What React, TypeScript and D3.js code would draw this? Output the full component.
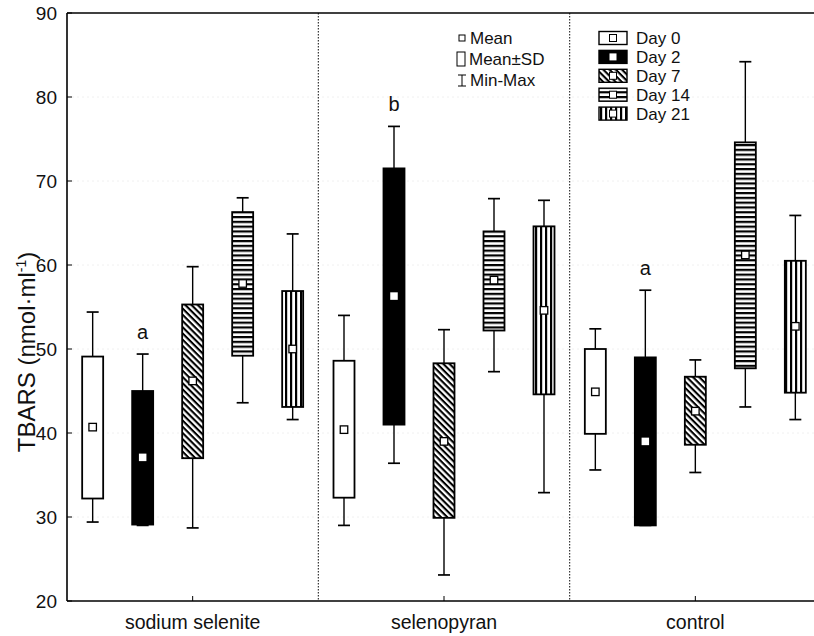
import React from 'react';
import * as d3 from 'd3';

const groups = ['sodium selenite', 'selenopyran', 'control'];
const days = ['Day 0', 'Day 2', 'Day 7', 'Day 14', 'Day 21'];

// per group, per day: [min, mean-SD, mean, mean+SD, max]
const sodiumSelenite = [
  [29.4, 32.2, 40.7, 49.1, 54.4],
  [29.0, 29.1, 37.1, 45.0, 49.4],
  [28.7, 37.0, 46.2, 55.3, 59.8],
  [43.6, 49.2, 57.8, 66.3, 68.0],
  [41.6, 43.1, 50.0, 56.9, 63.7],
];
const selenopyran = [
  [29.0, 32.3, 40.4, 48.6, 54.0],
  [36.4, 41.0, 56.3, 71.5, 76.5],
  [23.1, 29.9, 39.0, 48.3, 52.3],
  [47.3, 52.2, 58.2, 64.0, 67.9],
  [32.9, 44.6, 54.6, 64.6, 67.7],
];
const control = [
  [35.6, 39.9, 44.9, 50.0, 52.4],
  [29.0, 29.0, 39.0, 49.0, 57.0],
  [35.3, 38.6, 42.6, 46.7, 48.7],
  [43.1, 47.7, 61.2, 74.6, 84.2],
  [41.6, 44.8, 52.7, 60.5, 65.9],
];
const allStats = [sodiumSelenite, selenopyran, control];

// significance letters: [group index, day index, text]
const letters: [number, number, string][] = [
  [0, 1, 'a'],
  [1, 1, 'b'],
  [2, 1, 'a'],
];

const yTicks = [20, 30, 40, 50, 60, 70, 80, 90];

const fills = ['#fff', '#000', 'url(#diag)', 'url(#horiz)', 'url(#vert)'];
const font = 'Liberation Sans, Arial, sans-serif';

export default function App() {
  const left = 67;
  const right = 821;
  const top = 13;
  const bottom = 601;

  const y = d3.scaleLinear().domain([20, 90]).range([bottom, top]);
  const x = d3.scaleBand().domain(groups).range([left, right]);
  const dx = d3.scalePoint().domain(days).range([-100, 100]);
  const boxW = 21;
  const capW = 12;

  return (
    <svg width={814} height={636} style={{ position: 'absolute', left: 0, top: 0, background: '#fff' }}>
      <defs>
        <pattern id="diag" patternUnits="userSpaceOnUse" width={4} height={4.4} patternTransform="rotate(45)">
          <rect width={4} height={4.4} fill="#fff" />
          <rect width={4} height={2.1} fill="#000" />
        </pattern>
        <pattern id="horiz" patternUnits="userSpaceOnUse" width={4} height={4.8}>
          <rect width={4} height={4.8} fill="#fff" />
          <rect y={0} width={4} height={2.2} fill="#000" />
        </pattern>
        <pattern id="vert" patternUnits="userSpaceOnUse" width={5} height={4}>
          <rect width={5} height={4} fill="#fff" />
          <rect x={0} width={2.2} height={4} fill="#000" />
        </pattern>
      </defs>

      {/* faint grid */}
      {yTicks.slice(1, -1).map(t => (
        <line key={'g' + t} x1={left} x2={814} y1={y(t)} y2={y(t)} stroke="#ececec" strokeDasharray="2,3" strokeWidth={0.8} />
      ))}

      {/* group dividers */}
      {groups.slice(1).map(g => (
        <line key={'d' + g} x1={x(g)!} x2={x(g)!} y1={top} y2={bottom} stroke="#222" strokeDasharray="1.5,1.5" strokeWidth={1.1} />
      ))}

      {/* frame */}
      <line x1={left} x2={814} y1={top} y2={top} stroke="#000" strokeWidth={1.6} />
      <line x1={left} x2={814} y1={bottom} y2={bottom} stroke="#000" strokeWidth={1.6} />
      <line x1={left} x2={left} y1={top} y2={bottom} stroke="#000" strokeWidth={1.6} />

      {/* y ticks */}
      {yTicks.map(t => (
        <g key={'t' + t}>
          <line x1={left} x2={left + 5} y1={y(t)} y2={y(t)} stroke="#000" />
          <text x={left - 10} y={y(t)} dy="0.35em" textAnchor="end" fontFamily={font} fontSize={19} fill="#111">{t}</text>
        </g>
      ))}

      {/* x ticks and labels */}
      {groups.map(g => {
        const cx = x(g)! + x.bandwidth() / 2;
        return (
          <g key={'x' + g}>
            <line x1={cx} x2={cx} y1={bottom} y2={bottom - 5} stroke="#000" />
            <text x={cx} y={629} textAnchor="middle" fontFamily={font} fontSize={19.5} fill="#111">{g}</text>
          </g>
        );
      })}

      {/* y axis title */}
      <text transform={`translate(35,352) rotate(-90)`} textAnchor="middle" fontFamily={font} fontSize={24} fill="#111">
        TBARS (nmol·ml<tspan fontSize={14} dy={-9}>-1</tspan><tspan dy={9}>)</tspan>
      </text>

      {/* boxes */}
      {allStats.map((stats, gi) =>
        stats.map((s, di) => {
          const cx = x(groups[gi])! + x.bandwidth() / 2 + dx(days[di])!;
          const [mn, lo, mean, hi, mx] = s;
          return (
            <g key={gi + '-' + di}>
              <line x1={cx} x2={cx} y1={y(mx)} y2={y(hi)} stroke="#000" strokeWidth={1.4} />
              <line x1={cx} x2={cx} y1={y(lo)} y2={y(mn)} stroke="#000" strokeWidth={1.4} />
              <line x1={cx - capW / 2} x2={cx + capW / 2} y1={y(mx)} y2={y(mx)} stroke="#000" strokeWidth={1.7} />
              <line x1={cx - capW / 2} x2={cx + capW / 2} y1={y(mn)} y2={y(mn)} stroke="#000" strokeWidth={1.7} />
              <rect x={cx - boxW / 2} y={y(hi)} width={boxW} height={y(lo) - y(hi)} fill={fills[di]} stroke="#000" strokeWidth={1.8} />
              <rect x={cx - 3.75} y={y(mean) - 3.75} width={7.5} height={7.5} fill="#fff" stroke={di === 1 ? 'none' : '#000'} strokeWidth={1.3} />
            </g>
          );
        })
      )}

      {/* significance letters */}
      {letters.map(([gi, di, t], i) => {
        const cx = x(groups[gi])! + x.bandwidth() / 2 + dx(days[di])!;
        const s = allStats[gi][di];
        return (
          <text key={'l' + i} x={cx} y={y(s[4]) - 15} textAnchor="middle" fontFamily={font} fontSize={20} fill="#111">{t}</text>
        );
      })}

      {/* legend: statistics */}
      <g fontFamily={font} fontSize={17} fill="#111">
        <rect x={459} y={35} width={6} height={6} fill="#fff" stroke="#000" />
        <text x={470} y={38} dy="0.35em">Mean</text>
        <rect x={457} y={52} width={8} height={14} fill="#fff" stroke="#000" />
        <text x={469} y={59} dy="0.35em">Mean±SD</text>
        <line x1={462} x2={462} y1={75} y2={86} stroke="#000" />
        <line x1={458} x2={466} y1={75} y2={75} stroke="#000" />
        <line x1={458} x2={466} y1={86} y2={86} stroke="#000" />
        <text x={470} y={80} dy="0.35em">Min-Max</text>
      </g>

      {/* legend: days */}
      <g fontFamily={font} fontSize={17} fill="#111">
        {days.map((d, i) => {
          const cy = 38 + i * 18.9;
          return (
            <g key={'ld' + d}>
              <rect x={599} y={cy - 6.5} width={28} height={13} fill={fills[i]} stroke="#000" strokeWidth={1.4} />
              <rect x={609.5} y={cy - 3.5} width={7} height={7} fill="#fff" stroke={i === 1 ? 'none' : '#000'} />
              <text x={636} y={cy} dy="0.35em">{d}</text>
            </g>
          );
        })}
      </g>
    </svg>
  );
}
